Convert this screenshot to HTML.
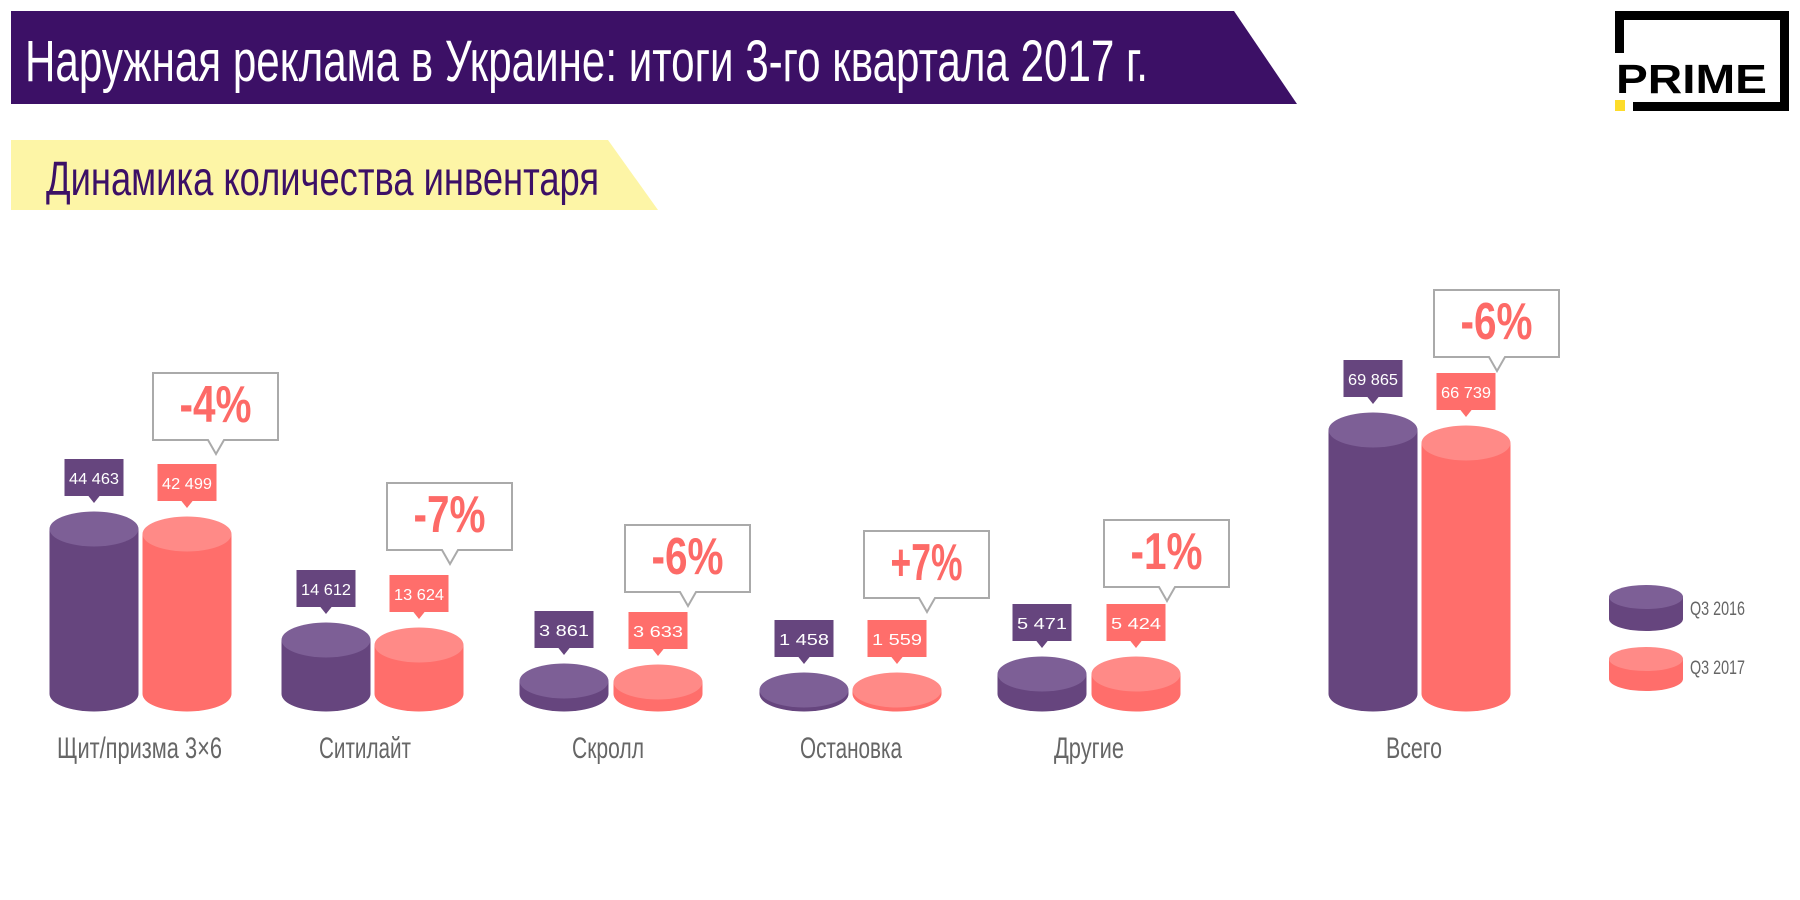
<!DOCTYPE html>
<html><head><meta charset="utf-8"><style>
html,body{margin:0;padding:0;background:#fff;}
svg{display:block;}
text{font-family:"Liberation Sans",sans-serif;}
</style></head><body>
<svg width="1800" height="900" viewBox="0 0 1800 900" xmlns="http://www.w3.org/2000/svg">
<polygon points="11,11 1234,11 1297,104 11,104" fill="#3c1066"/>
<text x="25" y="81" font-size="58" fill="#fff" textLength="1123" lengthAdjust="spacingAndGlyphs">Наружная реклама в Украине: итоги 3-го квартала 2017 г.</text>
<polygon points="11,140 608,140 658,210 11,210" fill="#fdf5a6"/>
<text x="46" y="195" font-size="48" fill="#3c1066" textLength="553" lengthAdjust="spacingAndGlyphs">Динамика количества инвентаря</text>
<!-- logo -->
<rect x="1615" y="11" width="174" height="9" fill="#000"/>
<rect x="1615" y="11" width="9" height="42" fill="#000"/>
<rect x="1780" y="11" width="9" height="100" fill="#000"/>
<rect x="1633" y="102" width="156" height="9" fill="#000"/>
<rect x="1615" y="100" width="10" height="11" fill="#fddc2a"/>
<text x="1616" y="93" font-size="41" font-weight="bold" fill="#000" textLength="151" lengthAdjust="spacingAndGlyphs">PRIME</text>
<g id="chart"></g>
</svg>
<script>
const g=document.getElementById('chart');
const NS='http://www.w3.org/2000/svg';
function el(t,a,txt){const e=document.createElementNS(NS,t);for(const k in a)e.setAttribute(k,a[k]);if(txt!==undefined)e.textContent=txt;g.appendChild(e);return e;}
const rx=44.5,ry=17.5,bot=694;
function cyl(cx,cy,body,top,rX,rY,b){rX=rX||rx;rY=rY||ry;b=b||bot;
 el('path',{d:`M${cx-rX},${cy} L${cx-rX},${b} A${rX},${rY} 0 0 0 ${cx+rX},${b} L${cx+rX},${cy} Z`,fill:body});
 el('ellipse',{cx:cx,cy:cy,rx:rX,ry:rY,fill:top});}
function tag(cx,cy,color,txt){const tip=cy-26;
 el('rect',{x:cx-29.5,y:tip-44,width:59,height:37,fill:color});
 el('polygon',{points:`${cx-6},${tip-7.5} ${cx+6},${tip-7.5} ${cx},${tip}`,fill:color});
 el('text',{x:cx,y:tip-19,'font-size':16,fill:'#fff','text-anchor':'middle',textLength:50,lengthAdjust:'spacingAndGlyphs'},txt);}
function call(left,top,txt){const w=125,h=67,px=left+63;
 el('path',{d:`M${left},${top} H${left+w} V${top+h} H${px+8} L${px},${top+h+14} L${px-8},${top+h} H${left} Z`,fill:'#fff',stroke:'#aaa','stroke-width':2});
 el('text',{x:left+w/2,y:top+49,'font-size':52,'font-weight':'bold',fill:'#fd6a67','text-anchor':'middle',textLength:72,lengthAdjust:'spacingAndGlyphs'},txt);}
const D=[
 [94,529,187,534,'44 463','42 499',153,373,'-4%',139.5,'Щит/призма 3×6',165],
 [326,640,419,645,'14 612','13 624',387,483,'-7%',365,'Ситилайт',92],
 [564,681,658,682,'3 861','3 633',625,525,'-6%',608,'Скролл',72],
 [804,690,897,690,'1 458','1 559',864,531,'+7%',851,'Остановка',102],
 [1042,674,1136,674,'5 471','5 424',1104,520,'-1%',1089,'Другие',70],
 [1373,430,1466,443,'69 865','66 739',1434,290,'-6%',1414,'Всего',56]];
for(const d of D){
 cyl(d[0],d[1],'#66457e','#7d5f96');cyl(d[2],d[3],'#ff6e6b','#ff8a87');
 tag(d[0],d[1],'#66457e',d[4]);tag(d[2],d[3],'#ff6e6b',d[5]);
 call(d[6],d[7],d[8]);
 el('text',{x:d[9],y:758,'font-size':30,fill:'#666','text-anchor':'middle',textLength:d[11],lengthAdjust:'spacingAndGlyphs'},d[10]);
}
cyl(1646,597,'#66457e','#7d5f96',37,12,619);
cyl(1646,659,'#ff6e6b','#ff8a87',37,12,679);
el('text',{x:1690,y:615,'font-size':19,fill:'#666',textLength:55,lengthAdjust:'spacingAndGlyphs'},'Q3 2016');
el('text',{x:1690,y:674,'font-size':19,fill:'#666',textLength:55,lengthAdjust:'spacingAndGlyphs'},'Q3 2017');
</script>
</body></html>
